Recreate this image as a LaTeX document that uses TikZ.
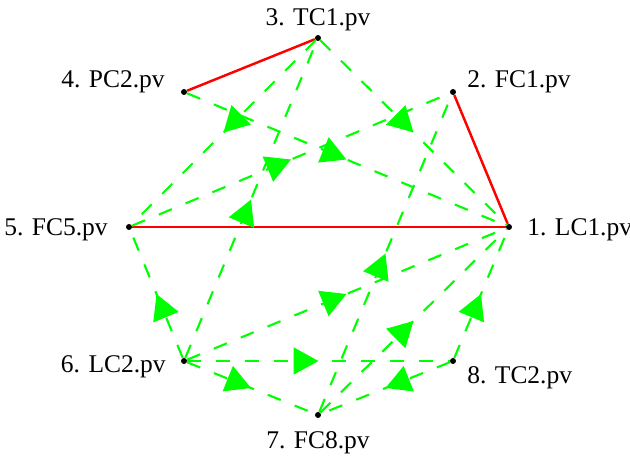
\documentclass[tikz,border=0pt]{standalone}
\usepackage{fontspec}
\setmainfont{Liberation Serif}
\usetikzlibrary{arrows.meta,decorations.markings}

\definecolor{linkgreen}{RGB}{0,255,0}
\definecolor{linkred}{RGB}{255,0,0}

\tikzset{
  pv/.style={circle,fill=black,inner sep=0pt,minimum size=0.12cm},
  pvlabel/.style={inner sep=0pt,font=\fontsize{14.5}{17}\selectfont},
  redlink/.style={draw=linkred,line width=1.4pt},
  greenlink/.style={draw=linkgreen,line width=1.2pt,dash pattern=on 8pt off 8.5pt,
    postaction={decorate},
    decoration={markings,mark=at position 0.5 with {\arrow[linkgreen]{Triangle[length=5mm,width=5.4mm]}}}}
}

\begin{document}
\begin{tikzpicture}[x=0.02cm,y=-0.02cm]
        \useasboundingbox (0,0) rectangle (630,459);
        % process variables on a circle
        \node[pv] (n1) at (509,227) {};
        \node[pv] (n2) at (453,92) {};
        \node[pv] (n3) at (318,38) {};
        \node[pv] (n4) at (184,92) {};
        \node[pv] (n5) at (129,227) {};
        \node[pv] (n6) at (184,361) {};
        \node[pv] (n7) at (318,415) {};
        \node[pv] (n8) at (453,361) {};
        % labels
        \node[pvlabel,anchor=base west] (l1) at (527,236) {1. LC1.pv};
        \node[pvlabel,anchor=base west] (l2) at (467,88) {2. FC1.pv};
        \node[pvlabel,anchor=base] (l3) at (318,26) {3. TC1.pv};
        \node[pvlabel,anchor=base east] (l4) at (165,88) {4. PC2.pv};
        \node[pvlabel,anchor=base east] (l5) at (108,236) {5. FC5.pv};
        \node[pvlabel,anchor=base east] (l6) at (166,373) {6. LC2.pv};
        \node[pvlabel,anchor=base] (l7) at (318,449) {7. FC8.pv};
        \node[pvlabel,anchor=base west] (l8) at (467,384) {8. TC2.pv};
        % undirected links
        \draw[redlink] (n3) -- (n4);
        \draw[redlink] (n2) -- (n1);
        \draw[redlink] (n5) -- (n1);
        % directed links
        \foreach \a/\b in {3/5,3/1,5/2,4/1,6/3,7/2,6/1,7/1,8/1,8/7,6/8,6/7,6/5}
          \draw[greenlink] (n\a) -- (n\b);
      \end{tikzpicture}
\end{document}
